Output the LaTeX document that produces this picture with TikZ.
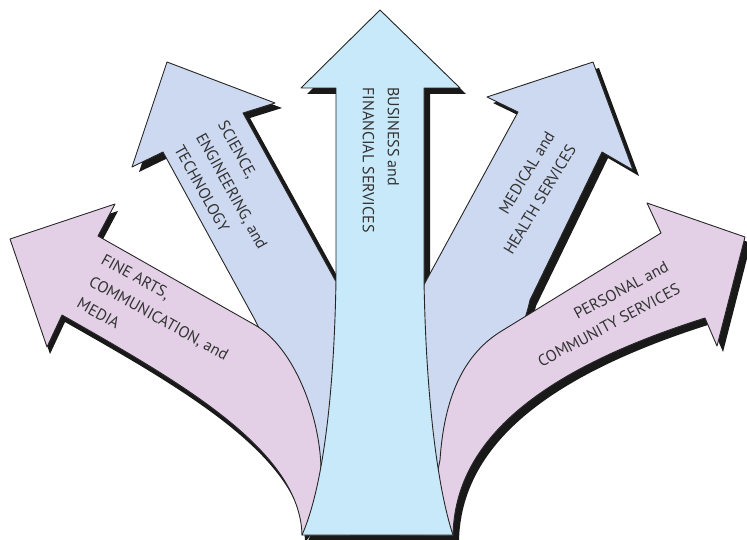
\documentclass[tikz,border=0pt]{standalone}
\usepackage{fontspec}
\usepackage{tikz}
\usetikzlibrary{backgrounds}
\newfontfamily\pathfont{PT Sans}
\definecolor{skyfill}{RGB}{200, 233, 250}
\definecolor{lavfill}{RGB}{205, 217, 240}
\definecolor{pinkfill}{RGB}{227, 208, 230}
\tikzset{
    arrowbody/.style={draw=black!85, line width=0.9pt, line join=round},
    arrowshadow/.style={fill=black!90},
    pathlabel/.style={font=\pathfont\fontsize{16}{25}\selectfont, text=black!80, inner sep=0pt}
}

% arrow outlines (pixel grid, y downwards)
\newcommand{\shapeScience}{(255,320) -- (163,152) -- (132,167) -- (167,62) -- (275,103) -- (243,113) -- (345,298) -- (350,535) -- (305,535) .. controls (300,450) and (285,380) .. (255,320) -- cycle}
\newcommand{\shapeMedical}{(420,292) -- (518,112) -- (487,97) -- (593,62) -- (633,170) -- (602,152) -- (530,300) .. controls (515,370) and (450,420) .. (448,535) -- (400,535) -- cycle}
\newcommand{\shapeFine}{(302,535) .. controls (300,450) and (180,382) .. (62,315) -- (47,347) -- (10,239) -- (115,204) -- (98,236) -- (255,325) .. controls (295,348) and (322,420) .. (321,475) .. controls (320,505) and (312,525) .. (302,535) -- cycle}
\newcommand{\shapePersonal}{(453,535) .. controls (455,440) and (540,370) .. (705,318) -- (717,346) -- (745,237) -- (647,203) -- (661,233) -- (500,332) .. controls (462,356) and (444,400) .. (440,460) -- (425,535) -- cycle}
\newcommand{\shapeCentral}{(380,10) -- (460,88) -- (424,88) -- (424,280) .. controls (426,400) and (438,490) .. (453,535) -- (302,535) .. controls (322,490) and (334,400) .. (336,280) -- (336,88) -- (301,88) -- cycle}

\begin{document}
\begin{tikzpicture}[x=1pt, y=-1pt]
        \useasboundingbox (0,0) rectangle (747,540);

        % Shadows
        \begin{scope}[on background layer]
            \fill[white] (0,0) rectangle (747,540);
            \fill[arrowshadow, shift={(7,5)}] \shapeScience;
            \fill[arrowshadow, shift={(6,6)}] \shapeMedical;
            \fill[arrowshadow, shift={(3,7)}] \shapeFine;
            \fill[arrowshadow, shift={(6,6)}] \shapePersonal;
            \fill[arrowshadow, shift={(6,6)}] \shapeCentral;
        \end{scope}

        % Arrows
        \filldraw[arrowbody, fill=lavfill] \shapeScience;
        \filldraw[arrowbody, fill=lavfill] \shapeMedical;
        \filldraw[arrowbody, fill=pinkfill] \shapeFine;
        \filldraw[arrowbody, fill=pinkfill] \shapePersonal;
        \filldraw[arrowbody, fill=skyfill] \shapeCentral;

        % Labels
        \node[pathlabel, rotate=-29, align=left] (fine) at (159,318) {FINE ARTS,\\COMMUNICATION, and\\MEDIA};
        \node[pathlabel, rotate=-61, align=left] (science) at (232,191) {SCIENCE,\\ENGINEERING, and\\TECHNOLOGY};
        \node[pathlabel, rotate=-90, align=left] (business) at (381,160) {BUSINESS and\\FINANCIAL SERVICES};
        \node[pathlabel, rotate=59, align=right] (medical) at (529,193) {MEDICAL and\\HEALTH SERVICES};
        \node[pathlabel, rotate=28, align=right] (personal) at (603,314) {PERSONAL and\\COMMUNITY SERVICES};

\end{tikzpicture}
\end{document}
